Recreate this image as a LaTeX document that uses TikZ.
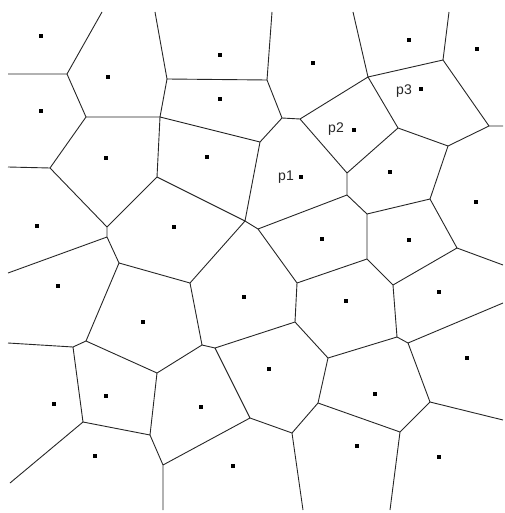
\documentclass[tikz,border=0pt]{standalone}
\usepackage{fontspec}
\setmainfont{Liberation Sans}
\begin{document}
\begin{tikzpicture}[x=1pt,y=-1pt,
  edge/.style={draw=black!85,line width=0.9pt,line join=round},
  site/.style={fill=black,minimum size=4pt,inner sep=0pt,outer sep=0pt,rectangle},
  lbl/.style={font=\fontsize{14}{14}\selectfont,anchor=base,inner sep=0pt,text=black!85}]
\useasboundingbox (0,0) rectangle (504,513);
% boundary ends
\coordinate (t1) at (102,12); \coordinate (t2) at (155,12); \coordinate (t3) at (272,12);
\coordinate (t4) at (353,12); \coordinate (t5) at (449,12);
\coordinate (l1) at (8,74); \coordinate (l2) at (8,167); \coordinate (l3) at (8,273);
\coordinate (l4) at (8,343); \coordinate (l5) at (10,483);
\coordinate (r1) at (503,126); \coordinate (r2) at (503,265); \coordinate (r3) at (503,303);
\coordinate (r4) at (503,420);
\coordinate (b1) at (163,510); \coordinate (b2) at (303,510); \coordinate (b3) at (390,510);
% vertices
\coordinate (A) at (67,74); \coordinate (B) at (86,117); \coordinate (C) at (160,117);
\coordinate (D) at (167,79); \coordinate (E) at (267,80); \coordinate (F) at (282,118);
\coordinate (G) at (300,119); \coordinate (H) at (260,142); \coordinate (I) at (368,77);
\coordinate (J) at (443,60); \coordinate (K) at (398,128); \coordinate (L) at (448,146);
\coordinate (M) at (489,126); \coordinate (O) at (50,168); \coordinate (N) at (107,227);
\coordinate (N2) at (107,237); \coordinate (R) at (119,263); \coordinate (P) at (157,177);
\coordinate (Q) at (245,221); \coordinate (S) at (258,229); \coordinate (T) at (190,283);
\coordinate (U) at (297,283); \coordinate (V) at (295,322); \coordinate (W) at (347,195);
\coordinate (X) at (347,173); \coordinate (Y) at (367,214); \coordinate (Z) at (430,199);
\coordinate (AA) at (367,259); \coordinate (AB) at (457,248); \coordinate (AC) at (393,285);
\coordinate (AD1) at (397,337); \coordinate (AD2) at (408,343);
\coordinate (R2) at (86,341); \coordinate (BA) at (73,347); \coordinate (BC) at (83,422);
\coordinate (BB) at (157,373); \coordinate (BD) at (150,435); \coordinate (BE) at (163,465);
\coordinate (VT1) at (202,345); \coordinate (VT2) at (215,348); \coordinate (CA) at (250,418);
\coordinate (CB) at (292,433); \coordinate (CC) at (318,403); \coordinate (CD) at (328,358);
\coordinate (CE) at (430,402); \coordinate (CF) at (400,432);
% edges
\path[edge] (l1)--(A) (A)--(t1) (A)--(B) (B)--(C) (B)--(O) (C)--(D) (C)--(H) (C)--(P)
  (D)--(t2) (D)--(E) (E)--(t3) (E)--(F) (F)--(G) (F)--(H) (G)--(I) (G)--(X)
  (H)--(Q) (I)--(t4) (I)--(J) (I)--(K) (J)--(t5) (J)--(M) (K)--(L) (K)--(X)
  (L)--(M) (L)--(Z) (M)--(r1) (O)--(l2) (O)--(N) (N)--(P) (N)--(N2) (N2)--(l3)
  (N2)--(R) (R)--(T) (R)--(R2) (P)--(Q) (Q)--(S) (Q)--(T) (S)--(W) (S)--(U)
  (T)--(VT1) (U)--(AA) (U)--(V) (V)--(VT2) (V)--(CD) (W)--(X) (W)--(Y)
  (Y)--(Z) (Y)--(AA) (Z)--(AB) (AA)--(AC) (AB)--(r2) (AB)--(AC) (AC)--(AD1)
  (AD1)--(AD2) (AD1)--(CD) (AD2)--(r3) (AD2)--(CE) (R2)--(BA) (R2)--(BB)
  (BA)--(l4) (BA)--(BC) (BC)--(l5) (BC)--(BD) (BB)--(BD) (BB)--(VT1)
  (BD)--(BE) (BE)--(b1) (BE)--(CA) (VT1)--(VT2) (VT2)--(CA) (CA)--(CB)
  (CB)--(CC) (CB)--(b2) (CC)--(CD) (CC)--(CF) (CE)--(r4) (CE)--(CF) (CF)--(b3);
% sites
\foreach \x/\y [count=\i] in {41/36,108/77,41/111,106/158,220/55,220/99,313/63,207/157,
  409/40,477/49,421/89,354/130,390/172,301/177,37/226,58/286,143/322,174/227,322/239,
  244/297,476/202,409/240,346/301,439/292,54/404,106/396,95/456,269/369,201/407,
  233/466,375/394,467/358,357/446,439/457}
  \node[site] (s\i) at (\x,\y) {};
% labels
\node[lbl] (p1) at (286,180) {p1};
\node[lbl] (p2) at (336,132) {p2};
\node[lbl] (p3) at (404,95) {p3};
\end{tikzpicture}
\end{document}
